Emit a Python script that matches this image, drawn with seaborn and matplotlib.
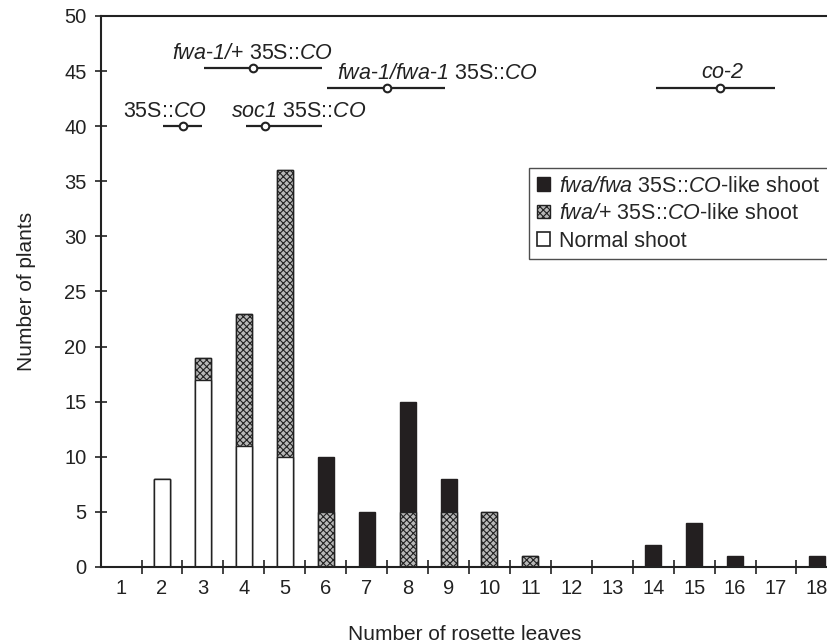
import matplotlib
matplotlib.use("Agg")
import matplotlib.pyplot as plt
import matplotlib.patches as mpatches
import seaborn as sns
import pandas as pd
import numpy as np

# ---- data ----
leaves = list(range(1, 19))
normal = [0, 8, 17, 11, 10, 0, 0, 0, 0, 0, 0, 0, 0, 0, 0, 0, 0, 0]
fwa_het = [0, 0, 2, 12, 26, 5, 0, 5, 5, 5, 1, 0, 0, 0, 0, 0, 0, 0]
fwa_hom = [0, 0, 0, 0, 0, 5, 5, 10, 3, 0, 0, 0, 0, 2, 4, 1, 0, 1]

geno_labels = [r"35S::$\mathsf{CO}$",
               r"$\mathsf{fwa}$-$\mathsf{1/}$+ 35S::$\mathsf{CO}$",
               r"$\mathsf{soc1}$ 35S::$\mathsf{CO}$",
               r"$\mathsf{fwa}$-$\mathsf{1/fwa}$-$\mathsf{1}$ 35S::$\mathsf{CO}$",
               r"$\mathsf{co}$-$\mathsf{2}$"]
geno_lo = [2.03, 3.03, 4.06, 6.04, 14.06]
geno_hi = [2.98, 5.91, 5.91, 8.92, 16.97]
geno_mean = [2.52, 4.23, 4.52, 7.5, 15.62]
geno_y = [40.0, 45.3, 40.0, 43.5, 43.5]
label_x = [2.08, 4.21, 5.33, 8.73, 15.7]
label_y = [40.8, 46.1, 40.8, 44.3, 44.4]

legend_labels = [r"$\mathsf{fwa/fwa}$ 35S::$\mathsf{CO}$-like shoot",
                 r"$\mathsf{fwa/}$+ 35S::$\mathsf{CO}$-like shoot",
                 "Normal shoot"]

# ---- style ----
sns.set_style("ticks")
plt.rcParams["font.family"] = ["Liberation Sans", "DejaVu Sans"]
plt.rcParams["mathtext.fontset"] = "custom"
plt.rcParams["mathtext.rm"] = "Liberation Sans"
plt.rcParams["mathtext.it"] = "Liberation Sans:italic"
plt.rcParams["mathtext.sf"] = "Liberation Sans:italic"
plt.rcParams["hatch.linewidth"] = 0.8

df = pd.DataFrame({"leaves": leaves, "normal": normal,
                   "het": fwa_het, "hom": fwa_hom})
df["top_het"] = df["normal"] + df["het"]
df["top_all"] = df["top_het"] + df["hom"]

fig = plt.figure(figsize=(8.28, 6.44), dpi=100)
ax = fig.add_axes([0.122, 0.1196, 0.878, 0.8556])

bw = 0.39
sns.barplot(data=df, x="leaves", y="top_all", order=leaves, color="#231f20",
            saturation=1, width=bw, edgecolor="#231f20", linewidth=1.0, ax=ax)
sns.barplot(data=df, x="leaves", y="top_het", order=leaves, color="#b8b8b8",
            saturation=1, width=bw, edgecolor="#222222", linewidth=1.0,
            hatch="xxxxx", ax=ax)
sns.barplot(data=df, x="leaves", y="normal", order=leaves, color="white",
            saturation=1, width=bw, edgecolor="#222222", linewidth=1.0, ax=ax)

# genotype ranges (positions on categorical axis = leaves - 1)
for lo, hi, m, yy in zip(geno_lo, geno_hi, geno_mean, geno_y):
    ax.plot([lo - 1, hi - 1], [yy, yy], color="#222222", lw=1.6,
            solid_capstyle="butt", zorder=4)
    ax.plot([m - 1], [yy], marker="o", ms=5.5, mfc="white", mec="#222222",
            mew=1.5, zorder=5)
for t, lx, ly in zip(geno_labels, label_x, label_y):
    ax.text(lx - 1, ly, t, ha="center", va="baseline", fontsize=15.5,
            color="#222222")

ax.set_xlim(-0.49, 17.27)
ax.set_ylim(0, 50)
ax.set_yticks(np.arange(0, 51, 5))
ax.set_xticks(range(len(leaves)))
ax.set_xticklabels([str(v) for v in leaves])
ax.set_xticks(np.arange(0.5, 17.0, 1.0), minor=True)
ax.tick_params(axis="x", which="major", length=0, pad=9, labelsize=14.5,
               colors="#222222")
ax.tick_params(axis="x", which="minor", direction="inout", length=10,
               width=1.2, color="#222222")
ax.tick_params(axis="y", direction="inout", length=9, width=1.2,
               labelsize=14.5, pad=6, colors="#222222")

for s in ["left", "bottom", "top"]:
    ax.spines[s].set_linewidth(1.5)
    ax.spines[s].set_color("#222222")
ax.spines["right"].set_visible(False)
ax.spines["top"].set_visible(True)

ax.set_xlabel("Number of rosette leaves", fontsize=15, labelpad=19,
              color="#222222")
ax.set_ylabel("Number of plants", fontsize=15, labelpad=20, color="#222222")

handles = [mpatches.Patch(facecolor="#231f20", edgecolor="#231f20"),
           mpatches.Patch(facecolor="#b8b8b8", edgecolor="#222222",
                          hatch="xxxxx"),
           mpatches.Patch(facecolor="white", edgecolor="#222222", lw=1.2)]
leg = ax.legend(handles, legend_labels, loc="upper right",
                bbox_to_anchor=(1.0, 0.724), borderaxespad=0, fontsize=15.5,
                frameon=True, fancybox=False, handlelength=0.6,
                handleheight=0.6, handletextpad=0.45, labelspacing=0.3,
                borderpad=0.35)
leg.get_frame().set_edgecolor("#222222")
leg.get_frame().set_linewidth(1.0)

fig.savefig("out.png", dpi=100, facecolor="white")
